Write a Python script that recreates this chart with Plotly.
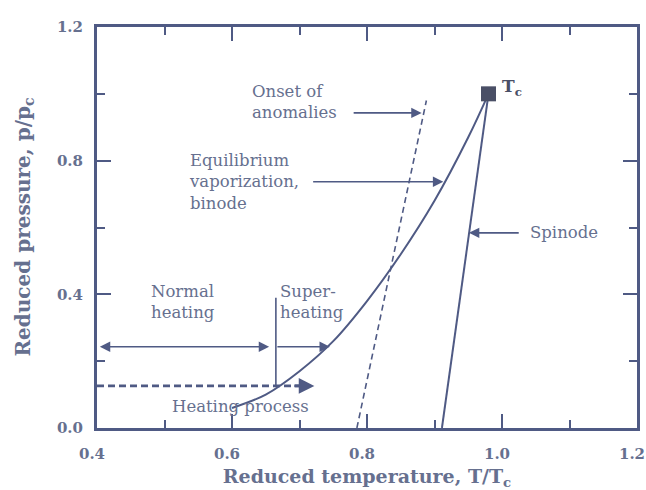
import plotly.graph_objects as go

# Colours
LINE = "#4f5a84"
TEXT = "#66708f"

# Equilibrium vaporization curve (binode), reduced T vs reduced p
binode_T = [0.60, 0.65, 0.70, 0.75, 0.80, 0.85, 0.90, 0.95, 0.98]
binode_p = [0.06, 0.10, 0.17, 0.26, 0.38, 0.52, 0.68, 0.87, 1.00]

# Spinode (limit of superheat)
spinode_T = [0.911, 0.98]
spinode_p = [0.0, 1.0]

# Onset of anomalies (dashed)
onset_T = [0.785, 0.888]
onset_p = [0.0, 0.98]

# Critical point
crit_T = [0.98]
crit_p = [1.0]

# Heating process at constant pressure
heat_T = [0.40, 0.70]
heat_p = [0.126, 0.126]

# Boundary between normal heating and superheating
boundary_T = [0.665, 0.665]
boundary_p = [0.126, 0.39]

# Pressure level of the normal / superheating arrows
level_p = 0.243

x_ticks = [0.4, 0.6, 0.8, 1.0, 1.2]
y_ticks = [0.0, 0.4, 0.8, 1.2]

SERIF = "DejaVu Serif"

fig = go.Figure()

fig.add_trace(go.Scatter(x=binode_T, y=binode_p, mode="lines",
                         line=dict(color=LINE, width=2, shape="spline"),
                         showlegend=False, hoverinfo="skip"))
fig.add_trace(go.Scatter(x=spinode_T, y=spinode_p, mode="lines",
                         line=dict(color=LINE, width=2),
                         showlegend=False, hoverinfo="skip"))
fig.add_trace(go.Scatter(x=onset_T, y=onset_p, mode="lines",
                         line=dict(color=LINE, width=1.6, dash="6px,4px"),
                         showlegend=False, hoverinfo="skip"))
fig.add_trace(go.Scatter(x=heat_T, y=heat_p, mode="lines",
                         line=dict(color=LINE, width=2.6, dash="7px,4px"),
                         showlegend=False, hoverinfo="skip"))
fig.add_trace(go.Scatter(x=boundary_T, y=boundary_p, mode="lines",
                         line=dict(color=LINE, width=1.6),
                         showlegend=False, hoverinfo="skip"))
fig.add_trace(go.Scatter(x=crit_T, y=crit_p, mode="markers",
                         marker=dict(symbol="square", size=15, color="#4a4f66"),
                         showlegend=False, hoverinfo="skip"))


def arrow(x_head, y_head, x_tail, y_tail, side="end", size=1.3, width=1.6):
    fig.add_annotation(x=x_head, y=y_head, ax=x_tail, ay=y_tail,
                       xref="x", yref="y", axref="x", ayref="y",
                       showarrow=True, arrowhead=2, arrowsize=size,
                       arrowwidth=width, arrowcolor=LINE, arrowside=side,
                       text="")


# Pointer arrows from labels to curves
arrow(0.881, 0.943, 0.778, 0.943)
arrow(0.913, 0.737, 0.718, 0.737)
arrow(0.951, 0.584, 1.027, 0.584)
# Normal heating (double headed) and superheating arrows
arrow(0.655, level_p, 0.402, level_p, side="end+start")
arrow(0.745, level_p, 0.665, level_p)
# Direction of the heating process
arrow(0.722, 0.126, 0.69, 0.126, size=1.2, width=2.6)


def label(x, y, text, size=16.5, anchor="left"):
    fig.add_annotation(x=x, y=y, xref="x", yref="y", text=text,
                       showarrow=False, xanchor=anchor, yanchor="middle",
                       align="left",
                       font=dict(family=SERIF, size=size, color=TEXT))


label(0.627, 0.975, "Onset of<br>anomalies")
label(0.533, 0.737, "Equilibrium<br>vaporization,<br>binode")
label(1.039, 0.584, "Spinode")
label(0.477, 0.377, "Normal<br>heating")
label(0.668, 0.377, "Super-<br>heating")
label(0.612, 0.063, "Heating process", anchor="center")
fig.add_annotation(x=0.997, y=1.02, xref="x", yref="y",
                   text="<b>T<sub>c</sub></b>", showarrow=False,
                   xanchor="left", yanchor="middle",
                   font=dict(family=SERIF, size=17, color="#4a4f66"))

# Vertical axis title
fig.add_annotation(x=-0.137, y=0.5, xref="paper", yref="paper",
                   text="<b>Reduced pressure, p/p<sub>c</sub></b>",
                   showarrow=False, textangle=-90,
                   xanchor="center", yanchor="middle",
                   font=dict(family=SERIF, size=20, color=TEXT))

axis_common = dict(
    showgrid=False, zeroline=False, showline=True, mirror="allticks",
    linecolor=LINE, linewidth=3, ticks="inside", ticklen=14, tickwidth=2,
    tickcolor=LINE, ticklabeloverflow="allow", automargin=False,
    tickfont=dict(family=SERIF, size=15, color=TEXT, weight="bold"),
)

fig.update_xaxes(range=[0.4, 1.2], tickvals=x_ticks,
                 ticktext=[f"{v:.1f}" for v in x_ticks],
                 minor=dict(dtick=0.1, ticks="inside", ticklen=8, tickwidth=2,
                            tickcolor=LINE),
                 title=dict(text="<b>Reduced temperature, T/T<sub>c</sub></b>",
                            font=dict(family=SERIF, size=19, color=TEXT),
                            standoff=20),
                 ticklabelstandoff=10, ticklabelshift=-5,
                 **axis_common)
fig.update_yaxes(range=[0.0, 1.2], tickvals=y_ticks,
                 ticktext=[f"{v:.1f}" for v in y_ticks],
                 minor=dict(dtick=0.2, ticks="inside", ticklen=8, tickwidth=2,
                            tickcolor=LINE),
                 ticklabelstandoff=8,
                 **axis_common)

fig.update_layout(
    width=646, height=490,
    margin=dict(l=97, r=9, t=27, b=62),
    plot_bgcolor="white", paper_bgcolor="white",
)

fig.write_html("out.html")
